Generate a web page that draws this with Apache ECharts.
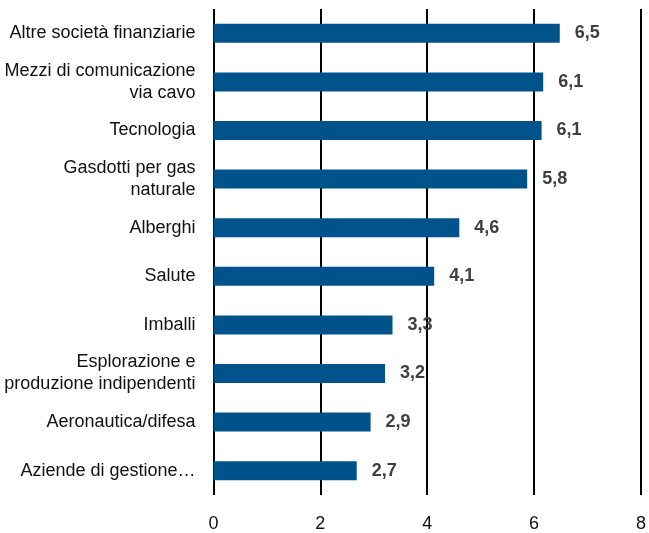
<!DOCTYPE html>
<html><head><meta charset="utf-8">
<script src="https://cdn.jsdelivr.net/npm/echarts@6/dist/echarts.min.js"></script>
<style>html,body{margin:0;padding:0;background:#fff}#c{width:649px;height:533px}</style>
</head><body><div id="c"></div>
<script>
const categories = [
  "Altre società finanziarie",
  "Mezzi di comunicazione\nvia cavo",
  "Tecnologia",
  "Gasdotti per gas\nnaturale",
  "Alberghi",
  "Salute",
  "Imballi",
  "Esplorazione e\nproduzione indipendenti",
  "Aeronautica/difesa",
  "Aziende di gestione…"
];
const values = [6.48, 6.17, 6.14, 5.87, 4.6, 4.13, 3.35, 3.21, 2.94, 2.68];
const valueLabels = ["6,5", "6,1", "6,1", "5,8", "4,6", "4,1", "3,3", "3,2", "2,9", "2,7"];
const xTicks = [0, 2, 4, 6, 8];

const FONT = "'Liberation Sans Narrow', 'Arial Narrow', 'Liberation Sans', Arial, sans-serif";
const chart = echarts.init(document.getElementById('c'), null, {renderer: 'canvas'});
chart.setOption({
  animation: false,
  grid: {left: 213.5, right: 5.5, top: 9, bottom: 38, containLabel: false},
  xAxis: {
    type: 'value', min: xTicks[0], max: xTicks[xTicks.length - 1], interval: 2,
    axisLine: {show: false}, axisTick: {show: false},
    splitLine: {show: true, lineStyle: {color: '#000', width: 2}},
    axisLabel: {margin: 20, fontFamily: FONT, fontSize: 18, color: '#111'}
  },
  yAxis: {
    type: 'category', data: categories, inverse: true,
    axisLine: {show: false}, axisTick: {show: false},
    axisLabel: {margin: 18, fontFamily: FONT, fontSize: 18, color: '#111', lineHeight: 22, align: 'right'}
  },
  series: [{
    type: 'bar', data: values, barWidth: 19,
    itemStyle: {color: '#00538a'},
    label: {
      show: true, position: 'right', distance: 15,
      fontFamily: FONT, fontSize: 18, fontWeight: 'bold', color: '#404040',
      formatter: p => valueLabels[p.dataIndex]
    }
  }]
});
</script></body></html>
